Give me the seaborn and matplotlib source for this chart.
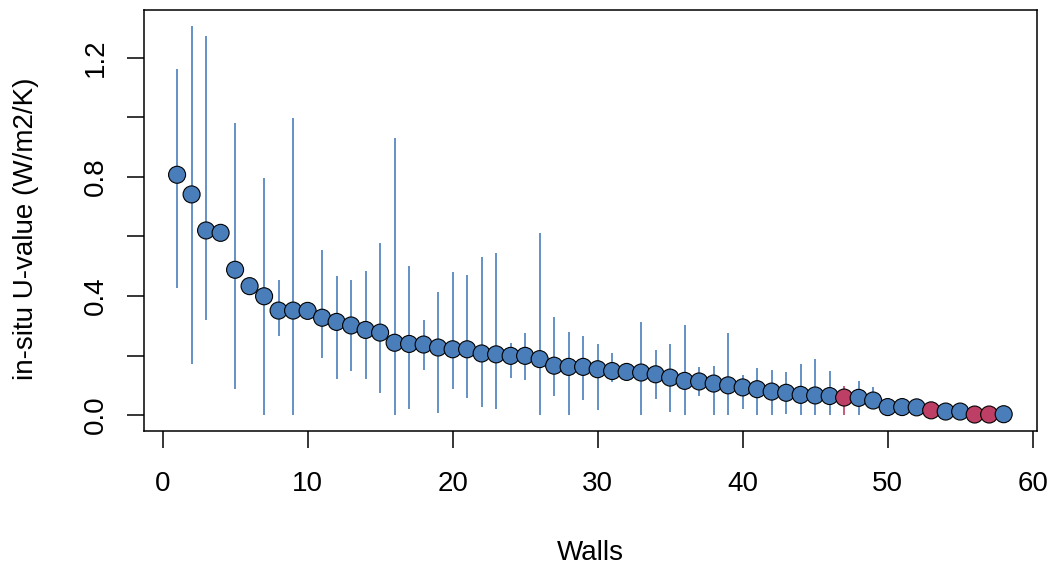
import numpy as np
import pandas as pd
import matplotlib
matplotlib.use("Agg")
import matplotlib.pyplot as plt
import seaborn as sns

# Measured in-situ U-values per wall, sorted in descending order
walls = list(range(1, 59))
u_value = [0.807, 0.741, 0.620, 0.612, 0.488, 0.433, 0.399, 0.351, 0.351, 0.350,
           0.327, 0.313, 0.301, 0.286, 0.277, 0.243, 0.239, 0.237, 0.227, 0.221,
           0.221, 0.207, 0.204, 0.199, 0.199, 0.188, 0.166, 0.162, 0.162, 0.154,
           0.148, 0.145, 0.143, 0.137, 0.126, 0.115, 0.113, 0.106, 0.100, 0.093,
           0.087, 0.079, 0.075, 0.068, 0.066, 0.064, 0.059, 0.058, 0.049, 0.027,
           0.027, 0.026, 0.016, 0.012, 0.012, 0.002, 0.002, 0.003]
nan = np.nan
# Lower / upper bounds of the uncertainty interval (nan where no interval is drawn)
u_lower = [0.428, 0.173, 0.320, nan, 0.087, nan, 0.000, 0.265, 0.000, nan,
           0.191, 0.122, 0.147, 0.122, 0.073, 0.000, 0.022, 0.151, 0.006, 0.087,
           0.059, 0.026, 0.019, 0.125, 0.118, 0.000, 0.064, 0.000, 0.050, 0.017,
           0.112, nan, 0.000, 0.053, 0.012, 0.000, 0.064, 0.000, 0.000, 0.021,
           0.000, 0.000, 0.003, 0.000, 0.000, 0.000, 0.000, 0.000, 0.019, nan,
           nan, nan, nan, nan, nan, nan, nan, nan]
u_upper = [1.163, 1.308, 1.273, nan, 0.982, nan, 0.795, 0.454, 0.997, nan,
           0.555, 0.468, 0.454, 0.485, 0.578, 0.930, 0.502, 0.320, 0.413, 0.481,
           0.472, 0.532, 0.543, 0.243, 0.275, 0.611, 0.331, 0.278, 0.264, 0.240,
           0.207, nan, 0.312, 0.220, 0.240, 0.304, 0.162, 0.166, 0.276, 0.134,
           0.158, 0.153, 0.146, 0.172, 0.188, 0.147, 0.098, 0.116, 0.094, nan,
           nan, nan, nan, nan, nan, nan, nan, nan]
flagged_walls = [47, 53, 56, 57]

BLUE = "#4A7EBB"
RED = "#BE3F66"

df = pd.DataFrame({"wall": walls, "u": u_value, "lo": u_lower, "hi": u_upper})
df["group"] = np.where(df["wall"].isin(flagged_walls), "flagged", "normal")
palette = {"normal": BLUE, "flagged": RED}

sns.set_style("ticks")
plt.rcParams["font.family"] = ["Liberation Sans", "DejaVu Sans"]

fig = plt.figure(figsize=(10.52, 5.70), dpi=100)
ax = fig.add_axes([0.1369, 0.2444, 0.8486, 0.7381])

# Uncertainty intervals
bars = df.dropna(subset=["lo", "hi"])
ax.vlines(bars["wall"], bars["lo"], bars["hi"],
          colors=[palette[g] for g in bars["group"]], linewidth=1.2, zorder=1)

sns.scatterplot(data=df, x="wall", y="u", hue="group", palette=palette,
                s=150, edgecolor="black", linewidth=0.8, legend=False,
                zorder=2, ax=ax)

ax.set_xlim(-1.28, 60.28)
ax.set_ylim(-0.0523, 1.3603)
ax.set_xticks(np.arange(0, 61, 10))
yt = np.round(np.arange(0, 1.21, 0.2), 1)
ax.set_yticks(yt)
ax.set_yticklabels([f"{v:.1f}" if i % 2 == 0 else "" for i, v in enumerate(yt)],
                   rotation=90, va="center")

for s in ax.spines.values():
    s.set_visible(True)
    s.set_color("black")
    s.set_linewidth(1.1)

ax.tick_params(axis="both", direction="out", length=12, width=1.1,
               color="black", labelsize=20, labelcolor="black")
ax.tick_params(axis="x", pad=17)
ax.tick_params(axis="y", pad=13.5)

ax.set_xlabel("Walls", fontsize=20, color="black", va="center")
ax.xaxis.set_label_coords(0.5, -0.29)
ax.set_ylabel("in-situ U-value (W/m2/K)", fontsize=20, color="black", va="center")
ax.yaxis.set_label_coords(-0.132, 0.48)

fig.savefig("out.png", dpi=100)
